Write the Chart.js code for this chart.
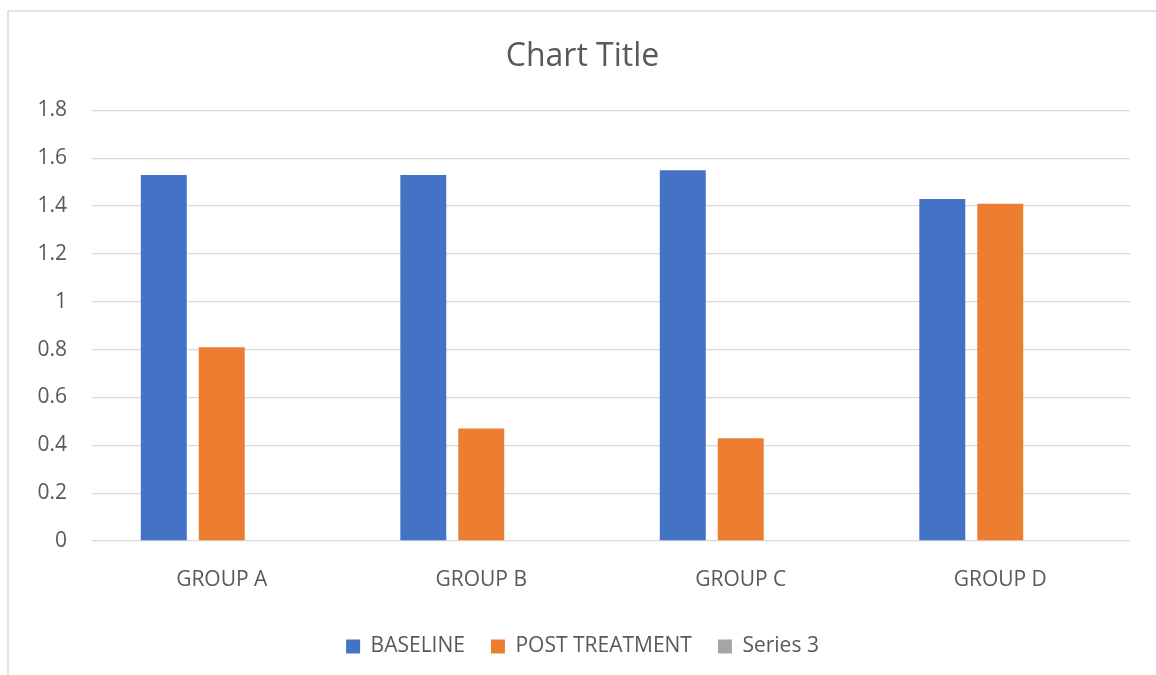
<!DOCTYPE html>
<html>
<head>
<meta charset="utf-8">
<script src="https://cdn.jsdelivr.net/npm/chart.js@4.4.0/dist/chart.umd.min.js"></script>
<style>
  html, body { margin: 0; padding: 0; background: #fff; }
  #wrap { width: 1156px; height: 675px; position: relative; }
</style>
</head>
<body>
<div id="wrap"><canvas id="chartGrupos" width="1156" height="675"></canvas></div>
<script>
const categories = ['GROUP A', 'GROUP B', 'GROUP C', 'GROUP D'];
const baseline = [1.53, 1.53, 1.55, 1.43];
const postTreatment = [0.81, 0.47, 0.43, 1.41];
const series3 = [null, null, null, null];
const yTicks = [0, 0.2, 0.4, 0.6, 0.8, 1, 1.2, 1.4, 1.6, 1.8];

const textColor = '#595959';
const gridColor = '#D9D9D9';
const fontFamily = "'Open Sans', 'Liberation Sans', sans-serif";

// fondo blanco y marco gris (solo arriba e izquierda, como la captura)
const frameBackgroundPlugin = {
    id: 'frameBackground',
    beforeDraw(chart) {
        const ctx = chart.ctx;
        ctx.save();
        ctx.fillStyle = '#fff';
        ctx.fillRect(0, 0, chart.width, chart.height);
        ctx.strokeStyle = gridColor;
        ctx.lineWidth = 1.5;
        ctx.beginPath();
        ctx.moveTo(8, chart.height);
        ctx.lineTo(8, 11);
        ctx.lineTo(chart.width, 11);
        ctx.stroke();
        ctx.restore();
    }
};

const ctx = document.getElementById('chartGrupos').getContext('2d');
new Chart(ctx, {
    type: 'bar',
    data: {
        labels: categories,
        datasets: [
            { label: 'BASELINE', data: baseline, backgroundColor: '#4472C4' },
            { label: 'POST TREATMENT', data: postTreatment, backgroundColor: '#ED7D31' },
            { label: 'Series 3', data: series3, backgroundColor: '#A5A5A5' }
        ]
    },
    options: {
        responsive: false,
        animation: false,
        categoryPercentage: 0.67,
        barPercentage: 0.793,
        // el título y la leyenda quedan más o menos centrados en el marco
        layout: { padding: { left: 35, right: 26, top: 0, bottom: 8 } },
        plugins: {
            title: {
                display: true,
                text: 'Chart Title',
                color: textColor,
                font: { family: fontFamily, size: 32, weight: 'normal' },
                padding: { top: 38, bottom: 34 }
            },
            legend: {
                display: true,
                position: 'bottom',
                labels: {
                    color: textColor,
                    font: { family: fontFamily, size: 21 },
                    boxWidth: 14,
                    boxHeight: 14,
                    padding: 26
                }
            },
            tooltip: { enabled: false }
        },
        scales: {
            x: {
                grid: { display: false, drawTicks: false },
                border: { display: false },
                ticks: {
                    color: textColor,
                    font: { family: fontFamily, size: 21 },
                    padding: 26
                },
                afterFit(scale) { scale.height = 69; }
            },
            y: {
                min: 0,
                max: 1.8,
                afterBuildTicks(scale) {
                    scale.ticks = yTicks.map(v => ({ value: v }));
                },
                grid: { color: gridColor, lineWidth: 1.3, drawTicks: false },
                border: { display: false },
                ticks: {
                    color: textColor,
                    font: { family: fontFamily, size: 21 },
                    padding: 25,
                    callback: v => String(Math.round(v * 10) / 10)
                },
                afterFit(scale) { scale.width = 57; }
            }
        }
    },
    plugins: [frameBackgroundPlugin]
});
</script>
</body>
</html>
